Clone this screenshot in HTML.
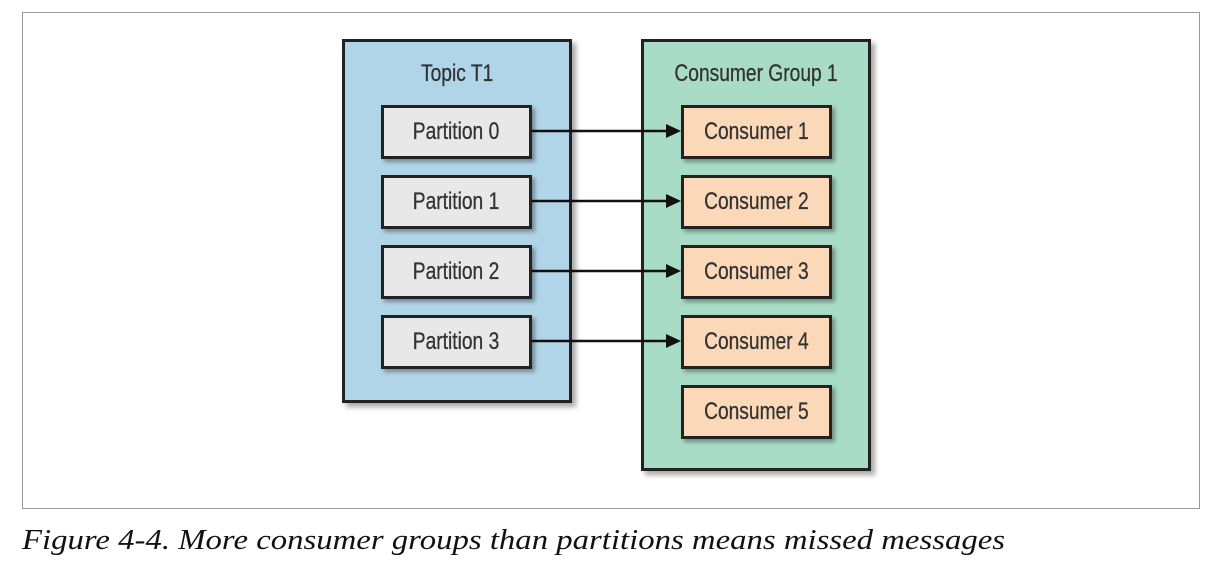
<!DOCTYPE html>
<html><head><style>
body{margin:0;width:1231px;height:578px;background:#fff;position:relative;overflow:hidden;font-family:"Liberation Sans",sans-serif}
.frame{position:absolute;left:22px;top:12px;width:1178px;height:497px;border:1px solid #999;box-sizing:border-box}
.big{position:absolute;border:3px solid #222;box-sizing:border-box;box-shadow:4px 4px 5px rgba(0,0,0,.35)}
.t{position:absolute;left:0;right:0;text-align:center;font-size:24px;color:#333}
.b{position:absolute;width:151px;height:54px;border:3px solid #222;box-sizing:border-box;box-shadow:3px 3px 4px rgba(0,0,0,.35);text-align:center;line-height:48px;font-size:24px;color:#333}
span{display:inline-block;transform:scaleX(0.8);white-space:nowrap;-webkit-text-stroke:0.3px #333}
.p{left:381px;background:#e8e8e8}
.c{left:681px;background:#fbd9b8}
.cap{position:absolute;left:22px;top:524px;font-family:"Liberation Serif",serif;font-style:italic;font-size:29px;color:#111;transform:scaleX(1.13);transform-origin:left;white-space:nowrap}
</style></head><body>
<div class="frame"></div>
<div class="big" style="left:342px;top:39px;width:230px;height:364px;background:#b1d5e8"><div class="t" style="top:18px"><span>Topic T1</span></div></div>
<div class="big" style="left:641px;top:39px;width:230px;height:432px;background:#a9dcc6"><div class="t" style="top:18px"><span>Consumer Group 1</span></div></div>
<div class="b p" style="top:105px"><span>Partition 0</span></div>
<div class="b p" style="top:175px"><span>Partition 1</span></div>
<div class="b p" style="top:245px"><span>Partition 2</span></div>
<div class="b p" style="top:315px"><span>Partition 3</span></div>
<div class="b c" style="top:105px"><span>Consumer 1</span></div>
<div class="b c" style="top:175px"><span>Consumer 2</span></div>
<div class="b c" style="top:245px"><span>Consumer 3</span></div>
<div class="b c" style="top:315px"><span>Consumer 4</span></div>
<div class="b c" style="top:385px"><span>Consumer 5</span></div>
<svg style="position:absolute;left:0;top:0" width="1231" height="578">
<g stroke="#111" stroke-width="2.5" fill="#111">
<line x1="532" y1="131" x2="668" y2="131"/><polygon points="666,124 681,131 666,138" stroke="none"/>
<line x1="532" y1="201" x2="668" y2="201"/><polygon points="666,194 681,201 666,208" stroke="none"/>
<line x1="532" y1="271" x2="668" y2="271"/><polygon points="666,264 681,271 666,278" stroke="none"/>
<line x1="532" y1="341" x2="668" y2="341"/><polygon points="666,334 681,341 666,348" stroke="none"/>
</g></svg>
<div class="cap">Figure 4-4. More consumer groups than partitions means missed messages</div>
</body></html>
